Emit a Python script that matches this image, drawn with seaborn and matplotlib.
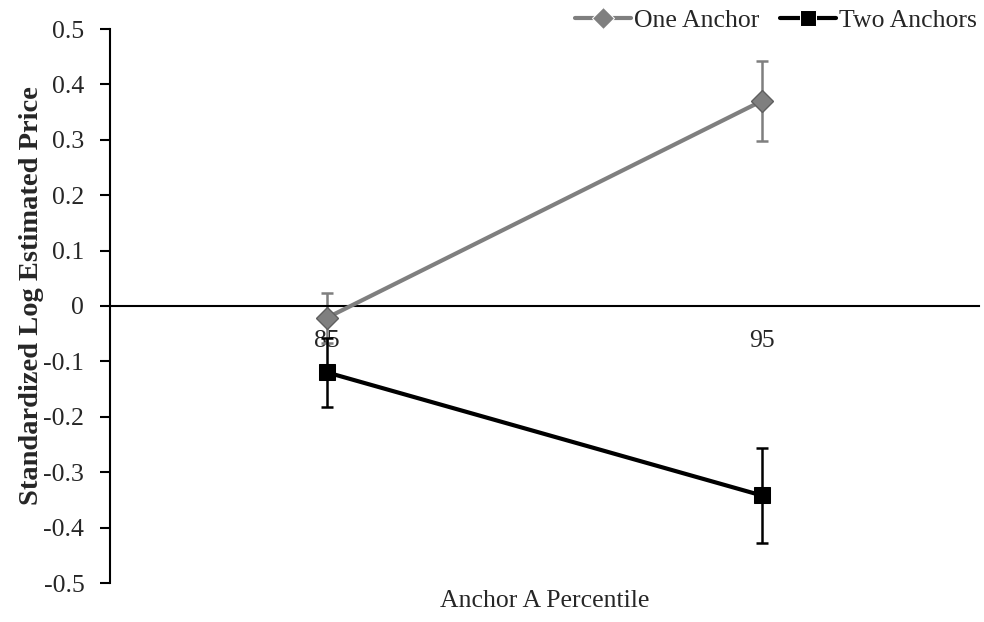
import matplotlib
matplotlib.use('Agg')
import matplotlib.pyplot as plt
import pandas as pd
import seaborn as sns

percentiles = ['85', '95']
one_anchor = [-0.021, 0.370]
one_anchor_err = [0.045, 0.072]
two_anchors = [-0.120, -0.342]
two_anchors_err = [0.063, 0.085]
series_names = ['One Anchor', 'Two Anchors']
y_ticks = [-0.5, -0.4, -0.3, -0.2, -0.1, 0, 0.1, 0.2, 0.3, 0.4, 0.5]

df = pd.DataFrame({
    'Anchor A Percentile': percentiles * 2,
    'Price': one_anchor + two_anchors,
    'Err': one_anchor_err + two_anchors_err,
    'Condition': [series_names[0]] * 2 + [series_names[1]] * 2,
})

sns.set_style('white')
plt.rcParams['font.family'] = ['Liberation Serif', 'DejaVu Serif']

fig = plt.figure(figsize=(9.84, 6.22), dpi=100)
ax = fig.add_axes([110 / 984, 39 / 622, 869 / 984, 554 / 622])

palette = {'One Anchor': '#7f7f7f', 'Two Anchors': '#000000'}
sns.lineplot(data=df, x='Anchor A Percentile', y='Price', hue='Condition',
             style='Condition', markers={'One Anchor': 'D', 'Two Anchors': 's'},
             dashes=False, palette=palette, linewidth=3.0, markersize=11,
             sort=False, ax=ax, zorder=3)

for line, name in zip(ax.get_lines()[:2], series_names):
    if name == 'One Anchor':
        line.set_markeredgecolor('#5f5f5f')
        line.set_markeredgewidth(1.0)
    else:
        line.set_markeredgecolor('#000000')

for name, color in palette.items():
    sub = df[df['Condition'] == name]
    ax.errorbar([0, 1], sub['Price'], yerr=sub['Err'], fmt='none',
                ecolor=color, elinewidth=1.8, capsize=4.3, capthick=1.8, zorder=2)

ax.set_xlim(-0.5, 1.5)
ax.set_ylim(-0.5, 0.5)
ax.set_yticks(y_ticks)
ax.set_yticklabels(['%g' % t for t in y_ticks])

ax.spines['top'].set_visible(False)
ax.spines['right'].set_visible(False)
ax.spines['bottom'].set_position(('data', 0))
for s in ['left', 'bottom']:
    ax.spines[s].set_color('black')
    ax.spines[s].set_linewidth(1.5)

ax.set_xticks([0, 1])
ax.set_xticklabels(percentiles)
ax.set_xticks([0.5, 1.5], minor=True)
ax.tick_params(axis='x', which='major', length=0, pad=17, labelsize=18.5)
ax.tick_params(axis='x', which='minor', length=7, width=1.5, direction='out', color='black')
ax.tick_params(axis='y', length=7, width=1.5, direction='out', color='black',
               left=True, labelsize=18.5, pad=11.5)

ax.set_xlabel('Anchor A Percentile', fontsize=18.5)
ax.xaxis.set_label_coords(0.5, -0.012)
ax.set_ylabel('Standardized Log Estimated Price', fontsize=20.5, fontweight='bold')
ax.yaxis.set_label_coords(-0.076, 0.518)

handles, labels = ax.get_legend_handles_labels()
ax.legend(handles, labels, loc='upper right', ncol=2, frameon=False,
          bbox_to_anchor=(0.995, 0.99), bbox_transform=fig.transFigure,
          fontsize=18.5, handlelength=2.2, handletextpad=0.1, columnspacing=0.8,
          borderaxespad=0.0, borderpad=0.1)

fig.savefig('out.png', dpi=100)
